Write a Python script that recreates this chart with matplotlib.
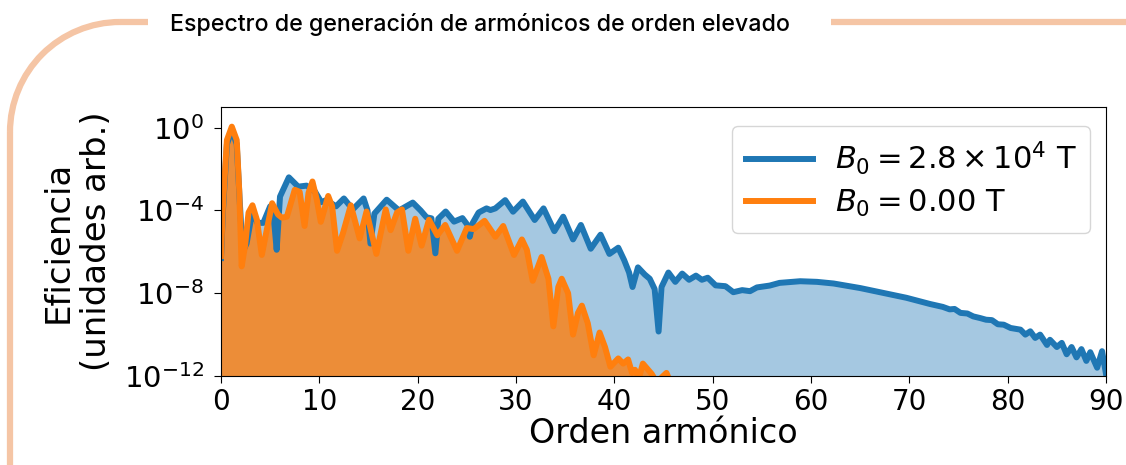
import numpy as np
import matplotlib
matplotlib.use("Agg")
import matplotlib.pyplot as plt
from matplotlib.patches import Arc

# ---------------- data (log10 of efficiency) ----------------
order_b28 = [0.0, 0.2, 0.6, 1.1, 1.6, 1.9, 2.2, 2.6, 3.2, 3.7, 4.3, 5.0, 5.4, 5.66, 6.0,
             6.9, 7.85, 8.7, 9.55, 10.2, 10.7, 11.7, 12.5, 13.4, 14.5, 14.9, 15.2, 15.6,
             16.85, 18.1, 19.5, 20.3, 20.9, 21.4, 21.8, 22.1, 22.85, 23.7, 24.55, 25.1,
             25.3, 25.6, 26.2, 27.0, 27.4, 27.9, 28.9, 29.7, 30.7, 31.9, 32.8, 33.9,
             34.8, 35.8, 36.6, 37.6, 38.6, 39.5, 40.4, 41.0, 41.5, 41.85, 42.4, 43.1,
             43.6, 44.1, 44.5, 44.8, 45.5, 46.2, 46.9, 47.6, 48.3, 48.9, 49.5, 50.3,
             51.3, 52.1, 53.0, 53.8, 54.5, 55.8, 56.8, 58.9, 60.6, 62.3, 65.0, 67.0,
             69.7, 72.1, 73.4, 74.1, 74.6, 75.2, 75.9, 76.5, 77.2, 77.8, 78.4, 79.0,
             79.6, 80.3, 81.3, 81.8, 82.3, 82.8, 83.3, 84.0, 84.3, 85.0, 85.5, 86.0,
             86.5, 87.0, 87.5, 88.0, 88.4, 89.1, 89.6, 90.0]
log_b28 = [-6.3, -4.0, -0.8, -0.1, -0.8, -3.5, -6.0, -5.6, -4.0, -4.6, -4.6, -3.8, -4.5,
           -5.9, -3.33, -2.4, -2.85, -2.8, -3.08, -3.6, -3.5, -3.8, -3.42, -3.95, -3.42,
           -4.0, -5.6, -4.15, -3.48, -4.0, -3.62, -4.0, -4.33, -4.38, -6.07, -4.4, -4.05,
           -4.54, -4.37, -4.72, -5.27, -4.6, -4.1, -3.9, -3.98, -3.9, -3.5, -4.06, -3.57,
           -4.46, -3.9, -5.0, -4.3, -5.4, -4.7, -5.85, -5.17, -6.1, -5.8, -6.4, -7.0,
           -7.7, -6.75, -7.1, -7.3, -7.8, -9.85, -7.7, -7.0, -7.45, -7.05, -7.35, -7.15,
           -7.35, -7.25, -7.62, -7.66, -7.95, -7.85, -7.9, -7.72, -7.63, -7.5, -7.42,
           -7.45, -7.53, -7.75, -7.95, -8.22, -8.52, -8.66, -8.78, -8.76, -8.95, -8.98,
           -9.12, -9.2, -9.28, -9.3, -9.5, -9.52, -9.68, -9.76, -10.0, -9.84, -10.16,
           -10.0, -10.5, -10.25, -10.6, -10.4, -10.95, -10.6, -11.1, -10.7, -11.27,
           -10.85, -11.6, -10.8, -11.9]

order_b0 = [0.0, 0.2, 0.6, 1.1, 1.6, 1.85, 2.1, 2.45, 2.8, 3.2, 3.65, 4.15, 4.65, 5.2,
            5.8, 6.2, 6.7, 7.5, 8.0, 8.5, 8.9, 9.3, 9.75, 10.15, 10.9, 11.3, 11.8, 12.4,
            13.2, 14.1, 14.8, 15.8, 16.75, 17.25, 17.9, 18.4, 19.05, 19.75, 20.4, 21.15,
            22.0, 22.8, 24.0, 25.0, 25.7, 26.8, 27.9, 28.7, 29.8, 30.6, 31.1, 31.7, 32.6,
            33.3, 33.8, 34.3, 34.65, 35.3, 35.8, 36.3, 36.7, 37.3, 37.9, 38.5, 39.05,
            39.6, 40.4, 40.9, 41.4, 41.8, 42.1, 42.5, 42.9, 43.8, 44.3, 45.3, 45.8, 46.5,
            90.0]
log_b0 = [-6.2, -3.8, -0.6, 0.05, -0.6, -3.0, -6.7, -5.7, -4.1, -3.75, -4.45, -6.15,
          -4.95, -3.65, -4.2, -4.35, -4.3, -3.0, -3.1, -4.75, -3.15, -2.6, -3.5, -4.55,
          -3.3, -3.8, -5.95, -5.1, -3.75, -5.35, -4.05, -6.1, -3.95, -4.95, -4.1, -3.95,
          -5.95, -4.4, -5.7, -4.45, -5.2, -4.7, -5.95, -4.85, -4.9, -4.5, -5.27, -4.75,
          -6.15, -5.4, -5.9, -7.4, -6.25, -7.3, -9.6, -7.7, -7.3, -8.0, -10.0, -8.95,
          -8.6, -9.45, -11.0, -9.9, -10.6, -11.55, -11.15, -11.4, -11.2, -11.85, -11.7,
          -12.1, -11.4, -11.9, -12.3, -11.85, -12.4, -13.0, -13.0]

labels = [r"$B_0 = 2.8\times10^4$ T", r"$B_0 = 0.00$ T"]
x_ticks = [0, 10, 20, 30, 40, 50, 60, 70, 80, 90]
y_ticks = [1e0, 1e-4, 1e-8, 1e-12]

# ---------------- figure ----------------
W, H = 1126, 465
fig = plt.figure(figsize=(W / 100, H / 100), dpi=100)

ax = fig.add_axes([221 / W, 1 - 376 / H, (1106 - 221) / W, (376 - 107) / H])

xb = np.array(order_b28)
yb = 10.0 ** np.array(log_b28)
xo = np.array(order_b0)
yo = 10.0 ** np.array(log_b0)

ax.fill_between(xb, yb, 1e-20, color="C0", alpha=0.4, lw=0)
ax.plot(xb, yb, color="C0", lw=4.3, label=labels[0], solid_joinstyle="round")
ax.fill_between(xo, yo, 1e-20, color="C1", alpha=0.8, lw=0)
ax.plot(xo, yo, color="C1", lw=4.3, label=labels[1], solid_joinstyle="round")

ax.set_yscale("log")
ax.set_xlim(0, 90)
ax.set_ylim(1e-12, 1e1)
ax.set_xticks(x_ticks)
ax.set_yticks(y_ticks)
ax.yaxis.set_minor_locator(matplotlib.ticker.NullLocator())
ax.tick_params(axis="x", labelsize=20, length=5)
ax.tick_params(axis="y", labelsize=21, length=5, pad=7)
ax.set_xlabel("Orden armónico", fontsize=24, labelpad=1)
ax.set_ylabel("Eficiencia\n(unidades arb.)", fontsize=24.5, labelpad=8)
ax.legend(loc="upper right", fontsize=22, handlelength=2.2, handletextpad=0.7,
          borderpad=0.45, borderaxespad=0, labelspacing=0.35,
          bbox_to_anchor=(0.982, 0.929))

# ---------------- decorative frame + title ----------------
deco = fig.add_axes([0, 0, 1, 1], zorder=-1)
deco.set_xlim(0, W)
deco.set_ylim(H, 0)
deco.axis("off")
peach = "#F5C5A5"
r = 110
deco.add_patch(Arc((10 + r, 22 + r), 2 * r, 2 * r, theta1=180, theta2=270,
                   color=peach, lw=4.5))
deco.plot([10 + r, 148], [22, 22], color=peach, lw=4.5, solid_capstyle="butt")
deco.plot([10, 10], [22 + r, H + 5], color=peach, lw=4.5, solid_capstyle="butt")
deco.plot([831, W + 5], [22, 22], color=peach, lw=4.5, solid_capstyle="butt")
fig.text(170 / W, 1 - 24 / H, "Espectro de generación de armónicos de orden elevado",
         fontsize=16.7, family="Inter", weight="medium", ha="left", va="center",
         color="black")

fig.savefig("out.png", dpi=100)
